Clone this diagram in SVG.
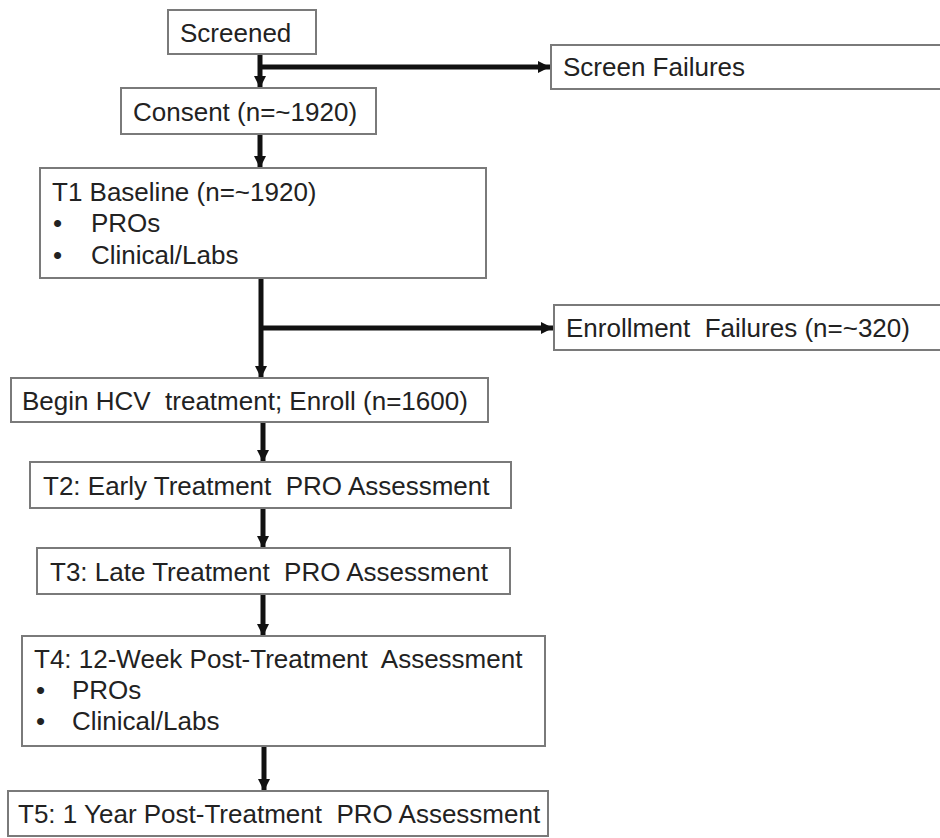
<svg xmlns="http://www.w3.org/2000/svg" width="940" height="838" viewBox="0 0 940 838">
<style>
.box{fill:#fff;stroke:#7a7a7a;stroke-width:2}
.t{font-family:"Liberation Sans",Arial,sans-serif;font-size:26px;fill:#222;white-space:pre}
.a{stroke:#111;stroke-width:5;fill:none;marker-end:url(#ah)}
</style>
<defs>
<marker id="ah" markerUnits="userSpaceOnUse" markerWidth="14" markerHeight="14" viewBox="0 0 14 14" refX="12" refY="7" orient="auto">
<path d="M0,1 L12,7 L0,13 Z" fill="#111"/>
</marker>
</defs>
<rect width="940" height="838" fill="#fff"/>
<g id="connectors">
<line class="a" x1="260" y1="54" x2="260" y2="88"/>
<line class="a" x1="260" y1="67" x2="550" y2="67"/>
<line class="a" x1="260" y1="134" x2="260" y2="168"/>
<line class="a" x1="261" y1="278" x2="261" y2="378"/>
<line class="a" x1="261" y1="328" x2="553" y2="328"/>
<line class="a" x1="263" y1="422" x2="263" y2="462"/>
<line class="a" x1="263" y1="508" x2="263" y2="548"/>
<line class="a" x1="263" y1="594" x2="263" y2="636"/>
<line class="a" x1="264" y1="746" x2="264" y2="791"/>
</g>
<g id="screened"><rect class="box" x="168" y="10" width="148" height="44"/><text class="t" x="180" y="42">Screened</text></g>
<g id="screen-failures"><rect class="box" x="551" y="45" width="400" height="44"/><text class="t" x="563" y="76">Screen Failures</text></g>
<g id="consent"><rect class="box" x="121" y="88" width="255" height="46"/><text class="t" x="133" y="121">Consent (n=~1920)</text></g>
<g id="t1"><rect class="box" x="40" y="168" width="446" height="110"/>
<text class="t" x="52" y="201">T1 Baseline (n=~1920)</text>
<text class="t" x="53" y="232">•</text><text class="t" x="91" y="232">PROs</text>
<text class="t" x="53" y="264">•</text><text class="t" x="91" y="264">Clinical/Labs</text></g>
<g id="enrollment-failures"><rect class="box" x="554" y="305" width="400" height="45"/><text class="t" x="566" y="337" xml:space="preserve">Enrollment  Failures (n=~320)</text></g>
<g id="begin"><rect class="box" x="11" y="378" width="477" height="44"/><text class="t" x="22" y="410" xml:space="preserve">Begin HCV  treatment; Enroll (n=1600)</text></g>
<g id="t2"><rect class="box" x="30" y="462" width="481" height="46"/><text class="t" x="43" y="495" xml:space="preserve">T2: Early Treatment  PRO Assessment</text></g>
<g id="t3"><rect class="box" x="37" y="548" width="473" height="46"/><text class="t" x="50" y="581" xml:space="preserve">T3: Late Treatment  PRO Assessment</text></g>
<g id="t4"><rect class="box" x="22" y="636" width="523" height="110"/>
<text class="t" x="34" y="668" xml:space="preserve">T4: 12-Week Post-Treatment  Assessment</text>
<text class="t" x="36" y="699">•</text><text class="t" x="72" y="699">PROs</text>
<text class="t" x="36" y="730">•</text><text class="t" x="72" y="730">Clinical/Labs</text></g>
<g id="t5"><rect class="box" x="8" y="791" width="540" height="45"/><text class="t" x="18" y="823" xml:space="preserve">T5: 1 Year Post-Treatment  PRO Assessment</text></g>
</svg>
